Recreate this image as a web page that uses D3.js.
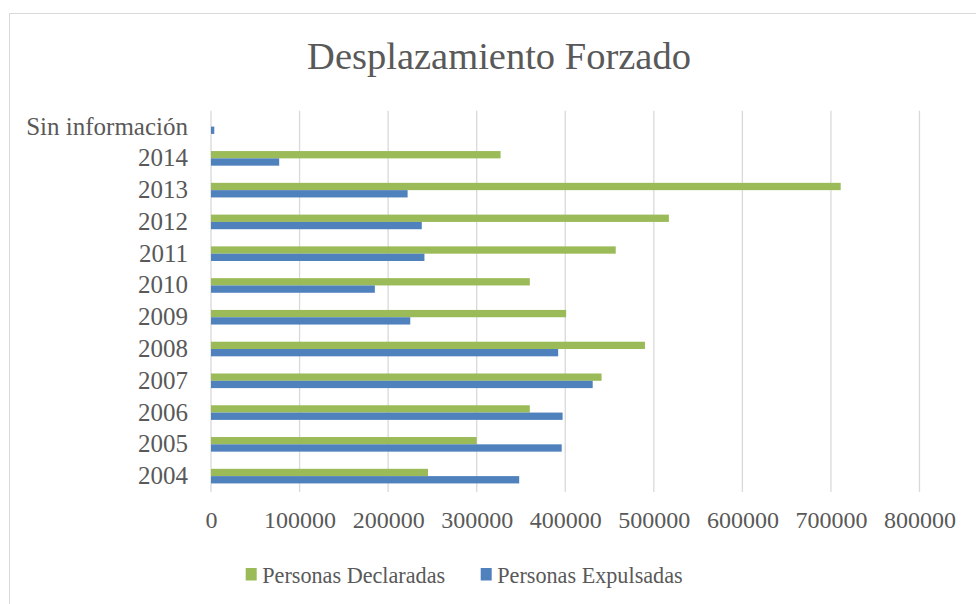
<!DOCTYPE html>
<html>
<head>
<meta charset="utf-8">
<script src="https://cdn.jsdelivr.net/npm/d3@7"></script>
<style>
  body { margin: 0; background: #fff; }
  text { font-family: "Liberation Serif", "Times New Roman", serif; fill: #595959; }
</style>
</head>
<body>
<svg id="chart"></svg>
<script>
// values, bottom row first
const categories = ['2004', '2005', '2006', '2007', '2008', '2009', '2010', '2011', '2012', '2013', '2014', 'Sin información'];
const declaradas = [245000, 300000, 360000, 441000, 490000, 401000, 360000, 457000, 517000, 711000, 327000, 0];
const expulsadas = [348000, 396000, 397000, 431000, 392000, 225000, 185000, 241000, 238000, 222000, 77000, 3700];
const xTicks = [0, 100000, 200000, 300000, 400000, 500000, 600000, 700000, 800000];
const seriesNames = ['Personas Declaradas', 'Personas Expulsadas'];
const seriesColors = ['#9bbb59', '#4f81bd'];

class BarChartH {
  constructor(_config, _data) {
    this.config = {
      parentElement: _config.parentElement,
      containerWidth: _config.containerWidth || 976,
      containerHeight: _config.containerHeight || 604,
      margin: _config.margin || {top: 110.7, right: 56.5, bottom: 112, left: 211}
    };
    this.data = _data;
    this.initVis();
  }

  initVis() {
    let vis = this;

    vis.width = vis.config.containerWidth - vis.config.margin.left - vis.config.margin.right;
    vis.height = vis.config.containerHeight - vis.config.margin.top - vis.config.margin.bottom;

    vis.svg = d3.select(vis.config.parentElement)
        .attr('width', vis.config.containerWidth)
        .attr('height', vis.config.containerHeight);

    // chart area border
    vis.svg.append('rect')
        .attr('x', 9.5)
        .attr('y', 13.5)
        .attr('width', 1000)
        .attr('height', 700)
        .attr('fill', 'none')
        .attr('stroke', '#d9d9d9');

    vis.svg.append('text')
        .attr('x', 499)
        .attr('y', 69)
        .attr('text-anchor', 'middle')
        .style('font-size', '38.5px')
        .text('Desplazamiento Forzado');

    vis.chart = vis.svg.append('g')
        .attr('transform', `translate(${vis.config.margin.left}, ${vis.config.margin.top})`);

    vis.xScale = d3.scaleLinear()
        .domain([0, 800000])
        .range([0, vis.width]);

    vis.yScale = d3.scaleBand()
        .domain(categories.slice().reverse())
        .range([0, vis.height])
        .paddingInner(0.54)
        .paddingOuter(0.27);

    vis.subScale = d3.scaleBand()
        .domain([0, 1])
        .range([0, vis.yScale.bandwidth()]);

    // grid
    vis.chart.append('g')
      .selectAll('line')
        .data(xTicks)
      .join('line')
        .attr('x1', d => vis.xScale(d))
        .attr('x2', d => vis.xScale(d))
        .attr('y1', 0)
        .attr('y2', vis.height)
        .attr('stroke', '#d9d9d9')
        .attr('stroke-width', 1.3);

    vis.xAxisG = vis.chart.append('g')
        .attr('transform', `translate(0, ${vis.height})`)
        .call(d3.axisBottom(vis.xScale).tickValues(xTicks).tickFormat(d3.format('d')).tickSize(0).tickPadding(19));

    vis.yAxisG = vis.chart.append('g')
        .call(d3.axisLeft(vis.yScale).tickSize(0).tickPadding(23));

    vis.chart.selectAll('.domain').remove();
    vis.xAxisG.selectAll('text').style('font-size', '24px').attr('fill', '#595959');
    vis.yAxisG.selectAll('text').style('font-size', '25px').attr('fill', '#595959');

    vis.updateVis();
  }

  updateVis() {
    let vis = this;

    vis.groups = vis.chart.selectAll('.group')
        .data(vis.data)
      .join('g')
        .attr('class', 'group')
        .attr('transform', d => `translate(0, ${vis.yScale(d.category)})`);

    vis.groups.selectAll('rect')
        .data(d => d.values)
      .join('rect')
        .attr('x', 0)
        .attr('y', (d, i) => vis.subScale(i))
        .attr('width', d => vis.xScale(d))
        .attr('height', vis.subScale.bandwidth())
        .attr('fill', (d, i) => seriesColors[i]);

    // legend
    vis.legend = vis.svg.selectAll('.legend')
        .data(seriesNames)
      .join('g')
        .attr('class', 'legend')
        .attr('transform', (d, i) => `translate(${[245.7, 480.7][i]}, 568)`);

    vis.legend.append('rect')
        .attr('width', 11)
        .attr('height', 12.5)
        .attr('fill', (d, i) => seriesColors[i]);

    vis.legend.append('text')
        .attr('x', 16.5)
        .attr('y', 15)
        .style('font-size', '22.2px')
        .text(d => d);
  }
}

const rows = categories.map((c, i) => ({category: c, values: [declaradas[i], expulsadas[i]]}));
new BarChartH({parentElement: '#chart'}, rows);
</script>
</body>
</html>
